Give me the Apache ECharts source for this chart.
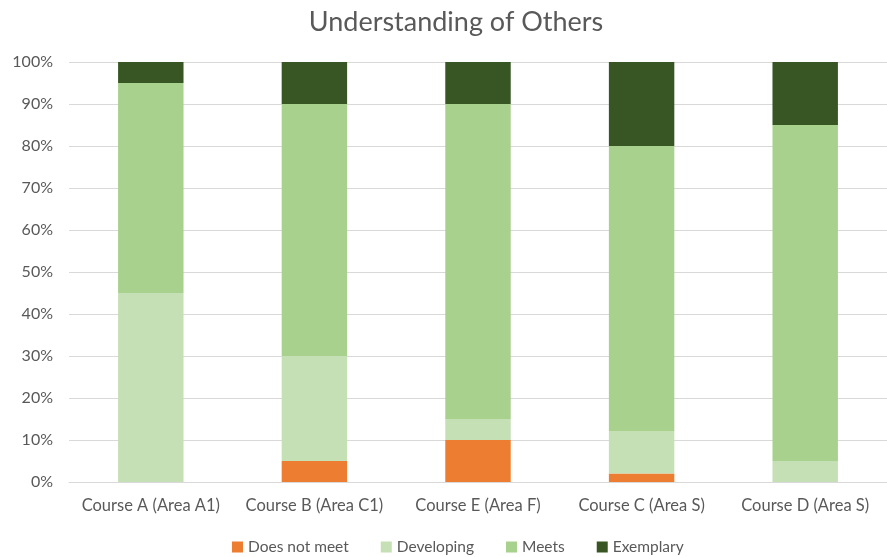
<!DOCTYPE html>
<html><head><meta charset="utf-8">
<script src="https://cdn.jsdelivr.net/npm/echarts@6/dist/echarts.min.js"></script>
<style>html,body{margin:0;padding:0;background:#fff}#c{width:887px;height:557px}</style>
</head><body><div id="c"></div>
<script>
const categories = ['Course A (Area A1)', 'Course B (Area C1)', 'Course E (Area F)', 'Course C (Area S)', 'Course D (Area S)'];
const doesNotMeet = [0, 5, 10, 2, 0];
const developing = [45, 25, 5, 10, 5];
const meets = [50, 60, 75, 68, 80];
const exemplary = [5, 10, 10, 20, 15];
const seriesNames = ['Does not meet', 'Developing', 'Meets', 'Exemplary'];
const colors = ['#ED7D31', '#C5E0B4', '#A9D18E', '#375623'];
const font = 'Lato, "Open Sans", sans-serif';
const data = [doesNotMeet, developing, meets, exemplary];
const chart = echarts.init(document.getElementById('c'));
chart.setOption({
  animation: false,
  title: { text: 'Understanding of Others', left: 451, textAlign: 'center', top: 4,
    textStyle: { fontFamily: font, fontSize: 27, fontWeight: 'normal', color: '#595959' } },
  legend: { bottom: -3, left: 227, itemWidth: 11, itemHeight: 11, itemGap: 32, icon: 'rect',
    textStyle: { fontFamily: font, fontSize: 15.5, color: '#595959' }, data: seriesNames },
  grid: { left: 69, right: -5, top: 62, bottom: 75 },
  xAxis: { type: 'category', data: categories,
    axisLine: { lineStyle: { color: '#D9D9D9' } }, axisTick: { show: false },
    axisLabel: { interval: 0, hideOverlap: false, fontFamily: font, fontSize: 16.5, color: '#595959', margin: 15 } },
  yAxis: { type: 'value', min: 0, max: 100, interval: 10,
    axisLabel: { formatter: '{value}%', fontFamily: font, fontSize: 16, color: '#595959', margin: 16 },
    splitLine: { lineStyle: { color: '#D9D9D9' } }, axisLine: { show: false }, axisTick: { show: false } },
  series: seriesNames.map((n, i) => ({ name: n, type: 'bar', stack: 'a', barWidth: '40%',
    itemStyle: { color: colors[i] }, data: data[i] }))
});
</script></body></html>
